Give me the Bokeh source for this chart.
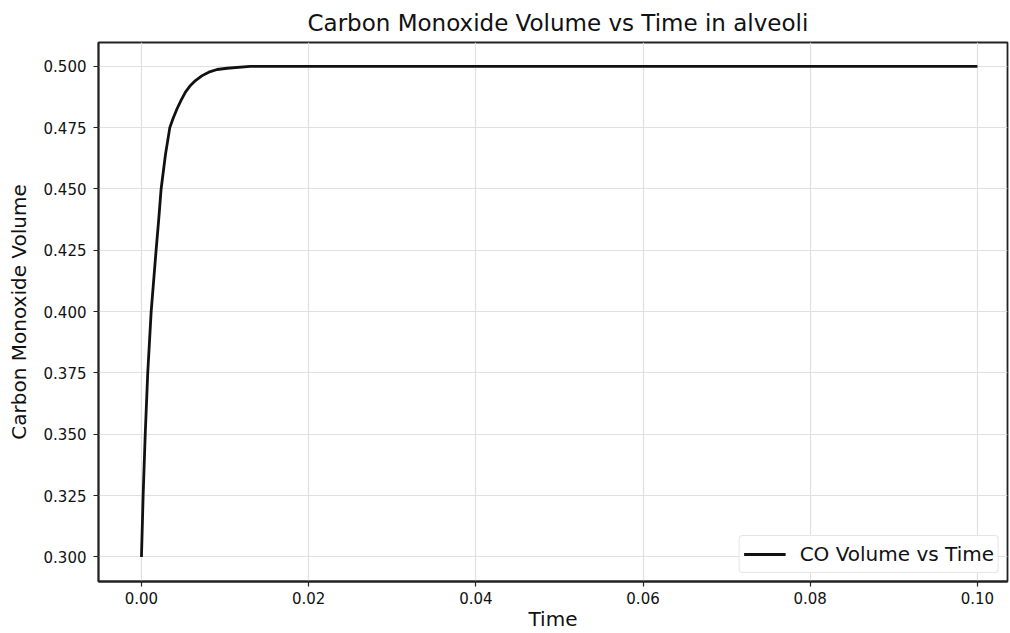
from bokeh.plotting import figure
from bokeh.models import Range1d, FixedTicker, NumeralTickFormatter, Legend, LegendItem
from bokeh.embed import file_html
from bokeh.resources import INLINE

# Data
time_s = [0.0, 0.0002, 0.00045, 0.00075, 0.00116, 0.00175, 0.00207, 0.00235, 0.00287,
          0.00339, 0.00379, 0.00427, 0.00475, 0.00526, 0.00586, 0.00646, 0.00726,
          0.00805, 0.00905, 0.01025, 0.013, 0.02, 0.04, 0.06, 0.08, 0.1]
co_volume = [0.300, 0.325, 0.350, 0.375, 0.400, 0.425, 0.4378, 0.450, 0.464,
             0.475, 0.4788, 0.4828, 0.4862, 0.4895, 0.4922, 0.4942, 0.4962,
             0.4976, 0.4987, 0.4992, 0.5000, 0.5000, 0.5000, 0.5000, 0.5000, 0.5000]
x_ticks = [0.0, 0.02, 0.04, 0.06, 0.08, 0.10]
y_ticks = [0.300, 0.325, 0.350, 0.375, 0.400, 0.425, 0.450, 0.475, 0.500]

FONT = "DejaVu Sans"

p = figure(width=1010, height=633, output_backend="svg", toolbar_location=None,
           x_range=Range1d(-0.00514, 0.1036), y_range=Range1d(0.2900, 0.5097),
           min_border_left=98, min_border_top=42, min_border_bottom=51, min_border_right=3)

p.title.text = "Carbon Monoxide Volume vs Time in alveoli"
p.title.align = "left"
p.title.text_font = FONT
p.title.text_font_size = "23px"
p.title.text_font_style = "normal"
p.title.text_color = "#111111"
p.title.offset = 209
p.title.standoff = 14

line = p.line(time_s, co_volume, line_color="#111111", line_width=2.8)

p.outline_line_color = "#222222"
p.outline_line_width = 1.8
p.outline_line_alpha = 1.0

for ax in (p.xaxis[0], p.yaxis[0]):
    ax.axis_line_color = "#222222"
    ax.axis_line_width = 1.8
    ax.major_tick_line_color = "#222222"
    ax.major_tick_line_width = 1.2
    ax.major_tick_out = 5
    ax.major_tick_in = 0
    ax.minor_tick_line_color = None
    ax.major_label_text_font = FONT
    ax.major_label_text_font_size = "15px"
    ax.major_label_text_color = "#111111"
    ax.axis_label_text_font = FONT
    ax.axis_label_text_font_size = "20px"
    ax.axis_label_text_font_style = "normal"
    ax.axis_label_text_color = "#111111"

p.xaxis.major_label_standoff = 5
p.yaxis.major_label_standoff = 7
p.xaxis.ticker = FixedTicker(ticks=x_ticks)
p.yaxis.ticker = FixedTicker(ticks=y_ticks)
p.xaxis.formatter = NumeralTickFormatter(format="0.00")
p.yaxis.formatter = NumeralTickFormatter(format="0.000")
p.xaxis.axis_label = "Time"
p.yaxis.axis_label = "Carbon Monoxide Volume"
p.xaxis.axis_label_standoff = 0
p.yaxis.axis_label_standoff = 10

p.xgrid.grid_line_color = "#e0e0e0"
p.ygrid.grid_line_color = "#e0e0e0"
p.xgrid.grid_line_width = 1.2
p.ygrid.grid_line_width = 1.2
p.xgrid.ticker = FixedTicker(ticks=x_ticks)
p.ygrid.ticker = FixedTicker(ticks=y_ticks)

legend = Legend(items=[LegendItem(label="CO Volume vs Time", renderers=[line])],
                location="bottom_right")
legend.label_text_font = FONT
legend.label_text_font_size = "20px"
legend.label_text_color = "#111111"
legend.border_line_color = "#cccccc"
legend.border_line_width = 1
legend.border_radius = 4
legend.background_fill_alpha = 0.9
legend.margin = 8
legend.padding = 4
legend.glyph_width = 42
legend.glyph_height = 28
legend.label_standoff = 14
legend.label_height = 28
legend.spacing = 0
p.add_layout(legend)

open("out.html", "w").write(file_html(p, INLINE))
